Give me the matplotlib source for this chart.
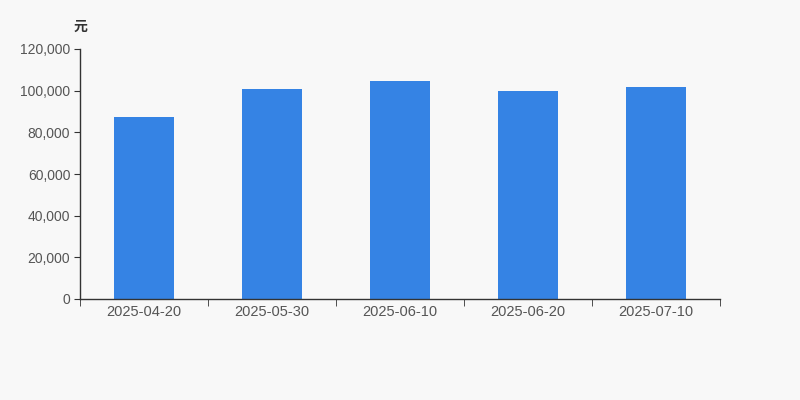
import matplotlib
matplotlib.use("Agg")
import matplotlib.pyplot as plt
import numpy as np

plt.rcParams['font.family'] = ['Liberation Sans', 'Noto Sans CJK SC', 'DejaVu Sans']

categories = ["2025-04-20", "2025-05-30", "2025-06-10", "2025-06-20", "2025-07-10"]
values = [87500, 101000, 104800, 99700, 101900]
yticks = [0, 20000, 40000, 60000, 80000, 100000, 120000]
unit = "元"

bg = "#f8f8f8"
fig = plt.figure(figsize=(8, 4), dpi=100, facecolor=bg)
ax = fig.add_axes([0.1, 0.2525, 0.8, 0.625], facecolor=bg)

x = np.arange(len(categories))
ax.bar(x, values, width=0.47, color="#3583e4", zorder=2)

ax.set_xlim(-0.5, len(categories) - 0.5)
ax.set_ylim(0, 120000)
ax.set_yticks(yticks)
ax.set_yticklabels([f"{v:,}" for v in yticks])
ax.set_xticks(x)
ax.set_xticklabels(categories)
ax.set_xticks(np.arange(-0.5, len(categories)), minor=True)

for s in ["top", "right"]:
    ax.spines[s].set_visible(False)
for s in ["left", "bottom"]:
    ax.spines[s].set_color("#333333")
    ax.spines[s].set_linewidth(1)

ax.tick_params(axis="y", which="major", length=4, color="#333333", labelcolor="#555555", labelsize=10, pad=3)
ax.tick_params(axis="x", which="major", length=0, labelcolor="#555555", labelsize=10.5, pad=4)
ax.tick_params(axis="x", which="minor", length=5, color="#333333")

fig.text(0.092, 0.932, unit, ha="left", va="center", fontsize=10, fontweight="bold", color="#333333",
         family=['Noto Sans CJK SC', 'DejaVu Sans'])

fig.savefig("out.png", dpi=100, facecolor=bg)
